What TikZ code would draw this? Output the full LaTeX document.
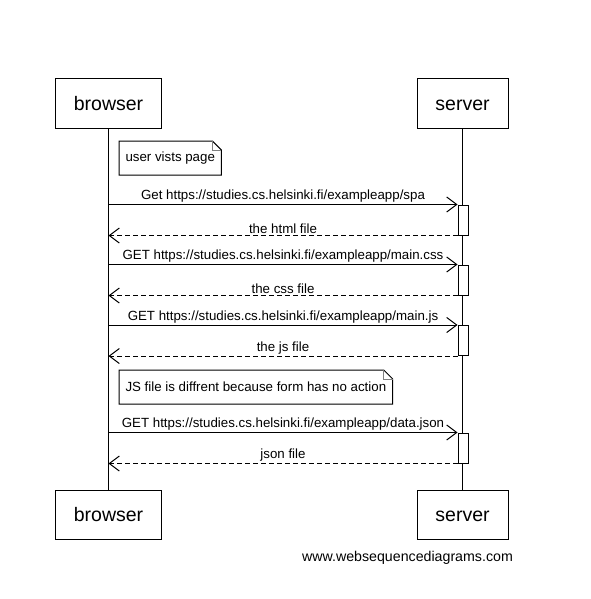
\documentclass[tikz,border=0pt]{standalone}
\usepackage{fontspec}
\setmainfont{Liberation Sans}
\usetikzlibrary{arrows.meta}

\tikzset{
	actor/.style={draw, minimum height=49pt, inner sep=0pt, text height=14pt, text depth=0pt, font=\fontsize{19.5}{22}\selectfont},
	actbox/.style={draw, fill=white, minimum width=10pt, minimum height=30pt, inner sep=0pt},
	msg/.style={-{Straight Barb[length=10pt,width=15pt]}},
	reply/.style={msg, dash pattern=on 5pt off 3pt},
	lbl/.style={above=0.5pt, inner sep=1pt, font=\fontsize{13.3}{15}\selectfont},
	notebox/.style={anchor=north west, minimum height=33pt, inner xsep=6pt, font=\fontsize{13.3}{15}\selectfont}
}

\begin{document}
\begin{tikzpicture}[x=1pt, y=-1pt, line width=1pt]
	\useasboundingbox (0,0) rectangle (590,599);

	\node[actor, minimum width=106pt] (browserTop) at (108.5,103.5) {browser};
	\node[actor, minimum width=91pt] (serverTop) at (462.5,103.5) {server};
	\node[actor, minimum width=106pt] (browserBot) at (108.5,514.5) {browser};
	\node[actor, minimum width=91pt] (serverBot) at (462.5,514.5) {server};

	\draw (browserTop) -- (browserBot);
	\draw (serverTop) -- (serverBot);

	\node[notebox] (note1) at (119,141) {user vists page\hspace{1pt}};
	\draw[fill=white] (note1.north west) -- ([xshift=-9pt]note1.north east) -- ([yshift=-9pt]note1.north east) -- (note1.south east) -- (note1.south west) -- cycle;
	\draw[gray] ([xshift=-9pt]note1.north east) |- ([yshift=-9pt]note1.north east);
	\node[notebox] at (note1.north west) {user vists page\hspace{1pt}};

	\node[actbox] (act1) at (463,220) {};
	\draw[msg] (browserTop |- act1.north west) -- node[lbl] {Get https://studies.cs.helsinki.fi/exampleapp/spa} (act1.north west);
	\draw[reply] (act1.south west) -- node[lbl] {the html file} (browserTop |- act1.south west);

	\node[actbox] (act2) at (463,280) {};
	\draw[msg] (browserTop |- act2.north west) -- node[lbl] {GET https://studies.cs.helsinki.fi/exampleapp/main.css} (act2.north west);
	\draw[reply] (act2.south west) -- node[lbl] {the css file} (browserTop |- act2.south west);

	\node[actbox] (act3) at (463,340.5) {};
	\draw[msg] (browserTop |- act3.north west) -- node[lbl] {GET https://studies.cs.helsinki.fi/exampleapp/main.js} (act3.north west);
	\draw[reply] (act3.south west) -- node[lbl] {the js file} (browserTop |- act3.south west);

	\node[notebox] (note2) at (119,370) {JS file is diffrent because form has no action\hspace{1pt}};
	\draw[fill=white] (note2.north west) -- ([xshift=-9pt]note2.north east) -- ([yshift=-9pt]note2.north east) -- (note2.south east) -- (note2.south west) -- cycle;
	\draw[gray] ([xshift=-9pt]note2.north east) |- ([yshift=-9pt]note2.north east);
	\node[notebox] at (note2.north west) {JS file is diffrent because form has no action\hspace{1pt}};

	\node[actbox] (act4) at (463,448) {};
	\draw[msg] (browserTop |- act4.north west) -- node[lbl] {GET https://studies.cs.helsinki.fi/exampleapp/data.json} (act4.north west);
	\draw[reply] (act4.south west) -- node[lbl] {json file} (browserTop |- act4.south west);

	\node[font=\fontsize{14.2}{16}\selectfont] (footer) at (407.5,558) {www.websequencediagrams.com};
\end{tikzpicture}
\end{document}
